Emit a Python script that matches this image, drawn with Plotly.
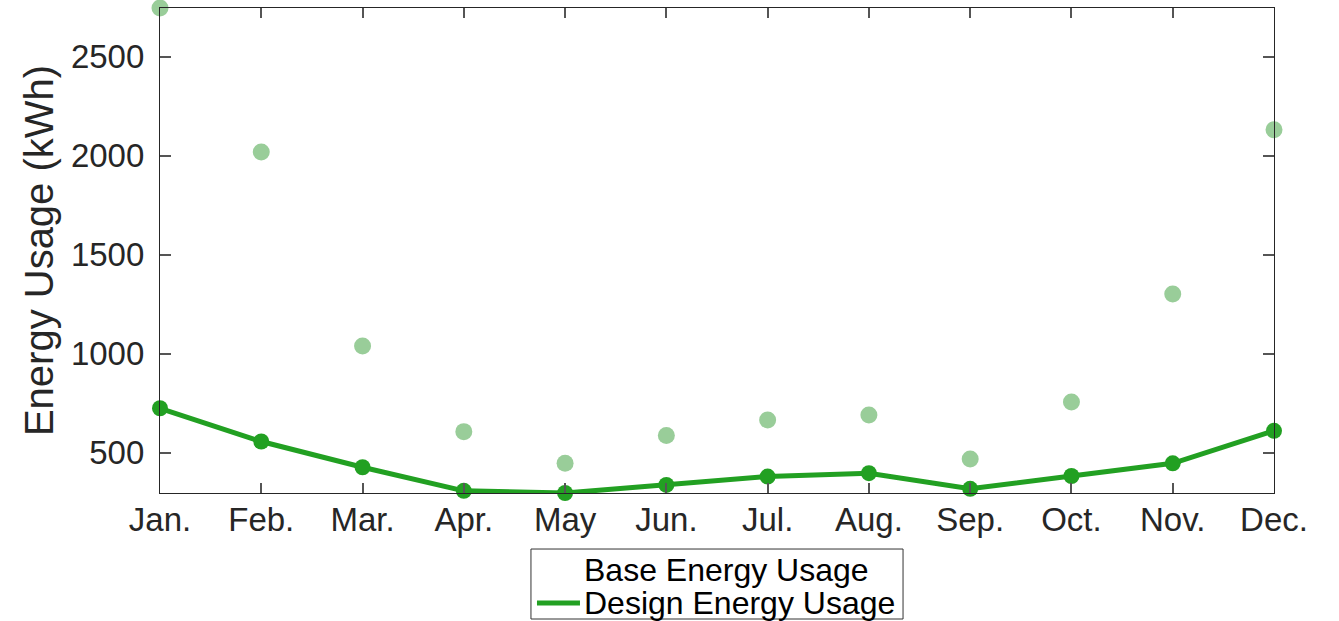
import plotly.graph_objects as go

months = ["Jan.", "Feb.", "Mar.", "Apr.", "May", "Jun.", "Jul.", "Aug.", "Sep.", "Oct.", "Nov.", "Dec."]
base_usage = [2746, 2019, 1039, 606, 446, 586, 665, 690, 468, 756, 1301, 2131]
design_usage = [724, 556, 426, 307, 296, 337, 379, 396, 317, 382, 446, 610]
y_ticks = [500, 1000, 1500, 2000, 2500]
series_names = ["Base Energy Usage", "Design Energy Usage"]

GREEN = "#22a022"
LIGHT_GREEN = "#99cd99"
FONT = "Liberation Sans, Arial, sans-serif"
TEXT = "#262626"

fig = go.Figure()

fig.add_trace(go.Scatter(
    x=months, y=base_usage, mode="markers", name=series_names[0],
    marker=dict(color=LIGHT_GREEN, size=17),
    showlegend=False, cliponaxis=False,
))
fig.add_trace(go.Scatter(
    x=months, y=design_usage, mode="lines+markers", name=series_names[1],
    line=dict(color=GREEN, width=5),
    marker=dict(color=GREEN, size=16),
    showlegend=False, cliponaxis=False,
))

axis_common = dict(
    showline=True, linecolor=TEXT, linewidth=1.2, mirror="ticks",
    ticks="inside", tickcolor="#555555", tickwidth=1.5,
    showgrid=False, zeroline=False,
    tickfont=dict(family=FONT, size=33, color=TEXT),
)

# Boxed legend below the axes: border, line sample and labels in paper coordinates
box_x0, box_x1 = 0.333, 0.667
box_y0, box_y1 = -0.2598, -0.1155
row_y = [-0.1588, -0.2268]
text_x = 0.3788
sample_x0, sample_x1 = 0.3384, 0.3770

shapes = [
    dict(type="rect", xref="paper", yref="paper",
         x0=box_x0, x1=box_x1, y0=box_y0, y1=box_y1,
         line=dict(color="#333333", width=1), fillcolor="white", layer="below"),
    dict(type="line", xref="paper", yref="paper",
         x0=sample_x0, x1=sample_x1, y0=row_y[1], y1=row_y[1],
         line=dict(color=GREEN, width=5)),
]
annotations = [
    dict(text=name, xref="paper", yref="paper", x=text_x, y=y,
         xanchor="left", yanchor="middle", showarrow=False,
         font=dict(family=FONT, size=32, color="black"))
    for name, y in zip(series_names, row_y)
]

fig.update_layout(
    width=1339, height=621,
    margin=dict(l=160, r=65, t=8, b=128),
    paper_bgcolor="white", plot_bgcolor="white",
    font=dict(family=FONT, color=TEXT),
    showlegend=False,
    xaxis=dict(**axis_common, type="category", range=[0, len(months) - 1], ticklen=10,
               tickmode="array", tickvals=months, ticktext=months,
               ticklabelstandoff=-3, automargin=False),
    yaxis=dict(**axis_common, range=[296, 2746], ticklen=11,
               tickmode="array", tickvals=y_ticks, ticklabelstandoff=8,
               automargin=True,
               title=dict(text="Energy Usage (kWh)",
                          font=dict(family=FONT, size=40, color=TEXT),
                          standoff=4)),
    shapes=shapes,
    annotations=annotations,
)

fig.write_html("out.html")
